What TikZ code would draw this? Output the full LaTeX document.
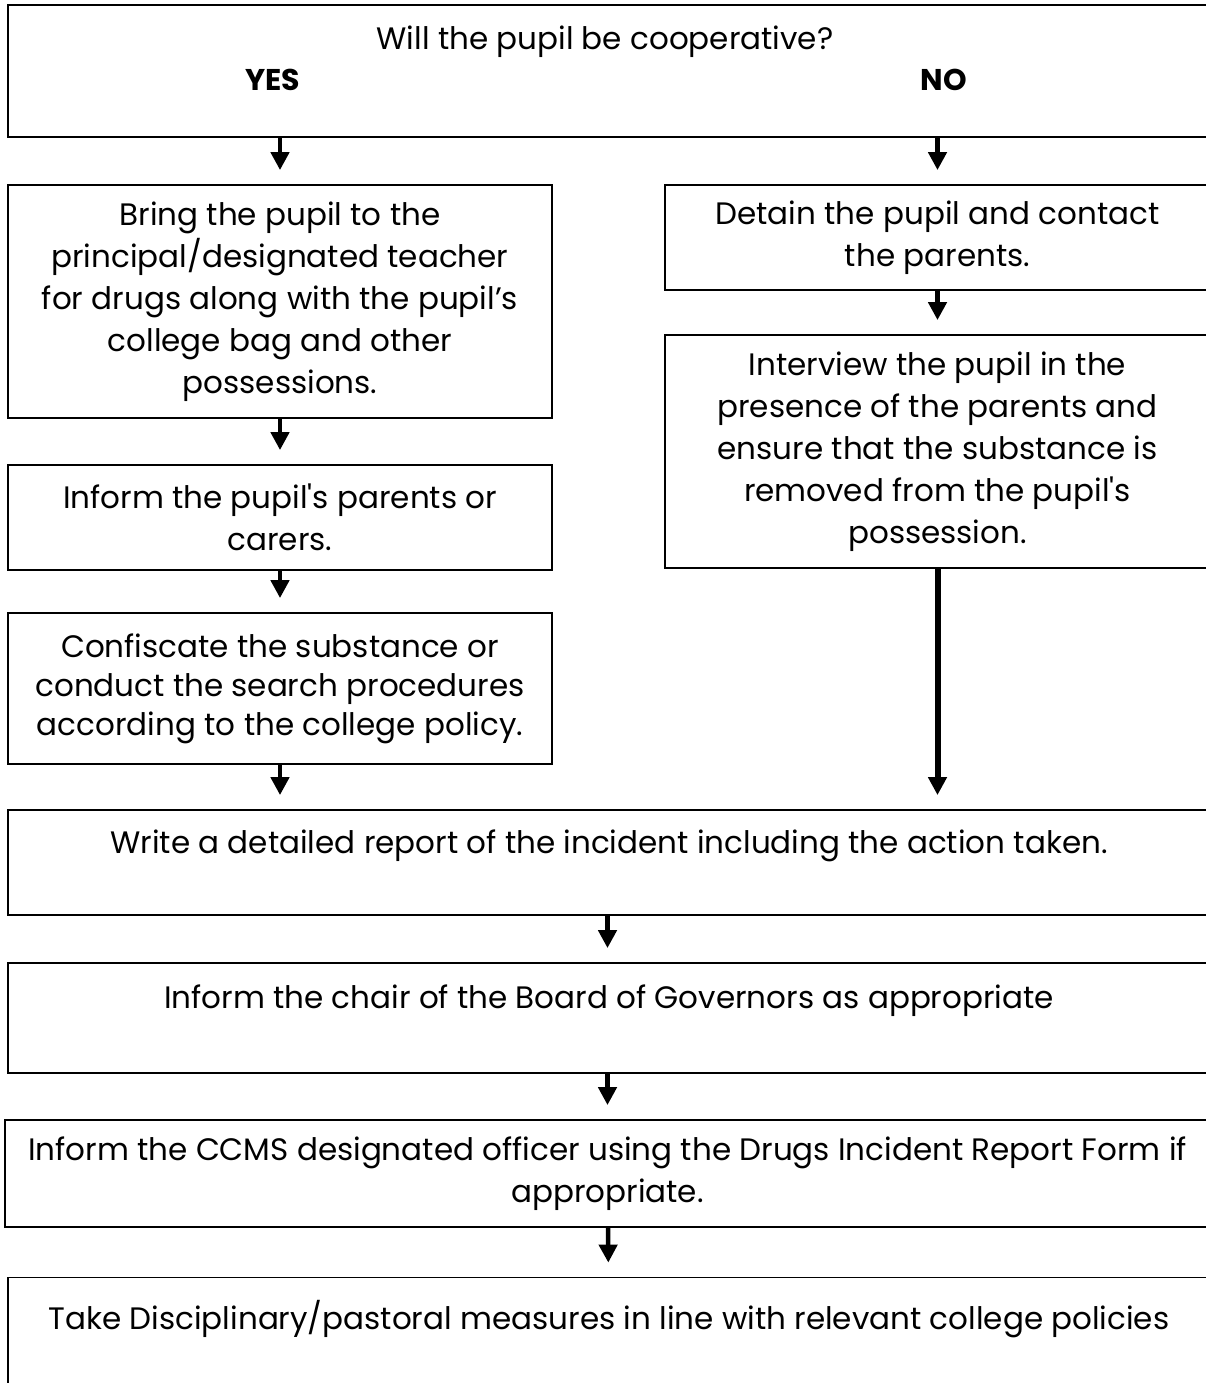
\documentclass[tikz,border=0pt]{standalone}
\usepackage{fontspec}
\setmainfont{Poppins}
\usetikzlibrary{arrows.meta}
\tikzset{%
	box/.style    = {draw, rectangle, line width = 1.8pt, inner sep = 0pt,
		align = center, font = \fontsize{31}{42}\selectfont}, % Step
	txt/.style    = {inner sep = 0pt, font = \fontsize{31}{42}\selectfont}, % Text
	answer/.style = {txt, font = \fontsize{30}{42}\selectfont\bfseries}, % Yes/No
	arr/.style    = {line width = 4.5pt, shorten >= 14pt,
		-{Triangle[length = 18pt, width = 18pt]}} % Arrow
}

\begin{document}
\begin{tikzpicture}[x=1pt, y=-1pt]
                \useasboundingbox (0,0) rectangle (1206,1383);

                \node[box, minimum width=1202, minimum height=132] (quest) at (609,71) {};
                \node[txt] (ask) at (605,42) {Will the pupil be cooperative?};
                \node[answer] (yes) at (273,80) {YES};
                \node[answer] (no) at (944,80) {NO};

                \node[box, minimum width=544, minimum height=233] (bring) at (280,301.5)
                    {Bring the pupil to the\\principal/designated teacher\\for drugs along with the pupil’s\\college bag and other\\possessions.};
                \node[box, minimum width=544, minimum height=105] (parents) at (280,517.5)
                    {Inform the pupil\textquotesingle s parents or\\carers.};
                \node[box, minimum width=544, minimum height=151, font=\fontsize{31}{39}\selectfont] (confis) at (280,688.5)
                    {Confiscate the substance or\\conduct the search procedures\\according to the college policy.};

                \node[box, minimum width=545, minimum height=105] (detain) at (937.5,237.5)
                    {Detain the pupil and contact\\the parents.};
                \node[box, minimum width=545, minimum height=233] (interview) at (937.5,451.5)
                    {Interview the pupil in the\\presence of the parents and\\ensure that the substance is\\removed from the pupil\textquotesingle s\\possession.};

                \node[box, minimum width=1202, minimum height=105] (write) at (609,862.5)
                    {Write a detailed report of the incident including the action taken.\\\mbox{}};
                \node[box, minimum width=1202, minimum height=110] (chair) at (609,1018)
                    {Inform the chair of the Board of Governors as appropriate\\\mbox{}};
                \node[box, minimum width=1205, minimum height=107] (ccms) at (607.5,1173.5)
                    {Inform the CCMS designated officer using the Drugs Incident Report Form if\\appropriate.};
                \node[box, minimum width=1202, minimum height=117] (take) at (609,1336)
                    {Take Disciplinary/pastoral measures in line with relevant college policies\\\mbox{}};

                \draw[arr] (quest.south -| bring.north) -- (bring.north);
                \draw[arr] (quest.south -| detain.north) -- (detain.north);
                \draw[arr] (bring) -- (parents);
                \draw[arr] (parents) -- (confis);
                \draw[arr] (confis.south) -- (confis.south |- write.north);
                \draw[arr] (detain) -- (interview);
                \draw[arr, line width=6pt] (interview.south) -- (interview.south |- write.north);
                \draw[arr] (write.south -| ccms.north) -- (chair.north -| ccms.north);
                \draw[arr] (chair.south -| ccms.north) -- (ccms.north);
                \draw[arr] (ccms) -- (take);
            \end{tikzpicture}
\end{document}
